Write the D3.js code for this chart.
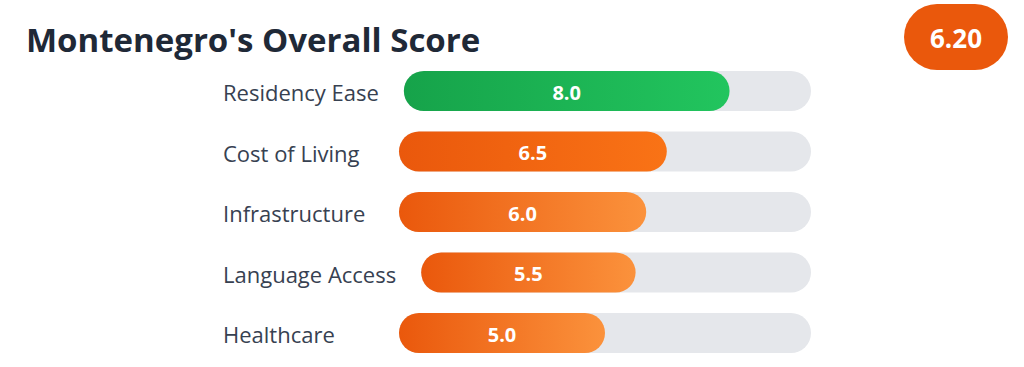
<!DOCTYPE html>
<html>
<head>
<meta charset="utf-8">
<script src="https://cdn.jsdelivr.net/npm/d3@7"></script>
<style>
  html, body { margin: 0; padding: 0; background: #ffffff; }
  svg { display: block; }
</style>
</head>
<body>
<svg id="chart" width="1024" height="367"></svg>
<script>
// ---- data ----
const chartTitle = "Montenegro's Overall Score";
const categories = ["Residency Ease", "Cost of Living", "Infrastructure", "Language Access", "Healthcare"];
const values = [8.0, 6.5, 6.0, 5.5, 5.0];
const tiers = ["green", "orangeDeep", "orange", "orange", "orange"];
const overallScore = 6.20;
const scoreDomain = [0, 10];

// ---- style ----
const gradients = {
  green: ["#16a34a", "#22c55e"],
  orangeDeep: ["#ea580c", "#f97316"],
  orange: ["#ea580c", "#fb923c"]
};
const labelX = 223, labelMin = 151, labelGap = 25, trackEnd = 811, barH = 40;
const fontFamily = "'Open Sans', 'Noto Sans', sans-serif";

const svg = d3.select("#chart");
const defs = svg.append("defs");
Object.entries(gradients).forEach(([k, c]) => {
  const g = defs.append("linearGradient").attr("id", "grad-" + k)
    .attr("x1", "0%").attr("x2", "100%").attr("y1", "0%").attr("y2", "0%");
  g.append("stop").attr("offset", "0%").attr("stop-color", c[0]);
  g.append("stop").attr("offset", "100%").attr("stop-color", c[1]);
});

// title
svg.append("text")
  .attr("x", 26).attr("y", 52)
  .attr("font-family", fontFamily).attr("font-weight", 700).attr("font-size", 33)
  .attr("fill", "#1f2937")
  .text(chartTitle);

// overall badge
const badge = svg.append("g").attr("transform", "translate(956,37)");
badge.append("rect").attr("x", -52).attr("y", -33).attr("width", 104).attr("height", 66)
  .attr("rx", 33).attr("fill", "#ea580c");
badge.append("text").attr("text-anchor", "middle").attr("dominant-baseline", "central")
  .attr("y", 1)
  .attr("font-family", fontFamily).attr("font-weight", 700).attr("font-size", 26)
  .attr("fill", "#ffffff").text(overallScore.toFixed(2));

const y = d3.scalePoint().domain(categories).range([91, 333]);

const rows = svg.selectAll("g.row").data(categories.map((c, i) => ({c, v: values[i], t: tiers[i]})))
  .join("g").attr("class", "row")
  .attr("transform", d => `translate(0,${y(d.c)})`);

rows.append("text").attr("class", "lab")
  .attr("x", labelX).attr("y", 1)
  .attr("dominant-baseline", "central")
  .attr("font-family", fontFamily).attr("font-size", 22).attr("font-weight", 500)
  .attr("fill", "#374151")
  .text(d => d.c);

rows.each(function(d) {
  const g = d3.select(this);
  const tw = g.select("text.lab").node().getComputedTextLength();
  const x0 = labelX + Math.max(labelMin, tw) + labelGap;
  const x = d3.scaleLinear().domain(scoreDomain).range([x0, trackEnd]);
  g.append("rect").attr("x", x(scoreDomain[0])).attr("y", -barH / 2)
    .attr("width", x(scoreDomain[1]) - x(scoreDomain[0])).attr("height", barH)
    .attr("rx", barH / 2).attr("fill", "#e5e7eb");
  g.append("rect").attr("x", x(scoreDomain[0])).attr("y", -barH / 2)
    .attr("width", x(d.v) - x(scoreDomain[0])).attr("height", barH)
    .attr("rx", barH / 2).attr("fill", `url(#grad-${d.t})`);
  g.append("text").attr("x", (x(scoreDomain[0]) + x(d.v)) / 2).attr("y", 1)
    .attr("text-anchor", "middle").attr("dominant-baseline", "central")
    .attr("font-family", fontFamily).attr("font-weight", 700).attr("font-size", 20)
    .attr("fill", "#ffffff").text(d.v.toFixed(1));
});
</script>
</body>
</html>
